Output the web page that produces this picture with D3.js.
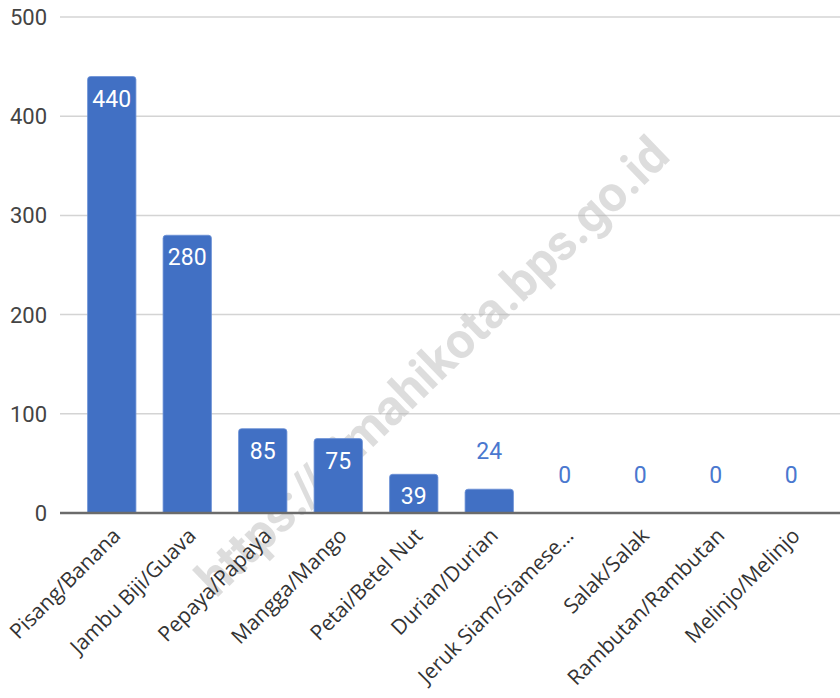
<!DOCTYPE html>
<html><head><meta charset="utf-8">
<script src="https://cdn.jsdelivr.net/npm/d3@7"></script>
<style>body{margin:0;background:#fff}svg{display:block}</style>
</head><body>
<svg id="c" width="840" height="698"></svg>
<script>
const categories = ["Pisang/Banana","Jambu Biji/Guava","Pepaya/Papaya","Mangga/Mango","Petai/Betel Nut","Durian/Durian","Jeruk Siam/Siamese…","Salak/Salak","Rambutan/Rambutan","Melinjo/Melinjo"];
const values = [440,280,85,75,39,24,0,0,0,0];
const yTicks = [0,100,200,300,400,500];
const watermark = "https://cimahikota.bps.go.id";

const svg = d3.select("#c");
const x = d3.scaleBand().domain(categories).range([74,829]).paddingInner(0.36).paddingOuter(0.18);
const y = d3.scaleLinear().domain([0,500]).range([513,17]);
const data = values.map((v,i)=>({c:categories[i],v}));

// gridlines
svg.append("g").selectAll("line").data(yTicks.filter(d=>d>0)).join("line")
  .attr("x1",60).attr("x2",840).attr("y1",d=>y(d)).attr("y2",d=>y(d))
  .attr("stroke","#d4d4d4").attr("stroke-width",1.5);

// y labels
svg.append("g").selectAll("text").data(yTicks).join("text")
  .attr("x",47).attr("y",d=>y(d)).attr("dy","0.36em").attr("text-anchor","end")
  .attr("font-family","Roboto, sans-serif").attr("font-size",22).attr("fill","#444")
  .text(d=>d);

// watermark (behind bars)
svg.append("text")
  .attr("transform","translate(432,366) rotate(-44)")
  .attr("text-anchor","middle").attr("dy","0.35em")
  .attr("font-family","Roboto, sans-serif").attr("font-weight","bold").attr("font-size",50)
  .attr("fill","#b4b4b4").attr("fill-opacity",0.45)
  .text(watermark);

// bars with rounded top
const r = 3;
svg.append("g").selectAll("path").data(data.filter(d=>d.v>0)).join("path")
  .attr("d",d=>{
    const x0=x(d.c), w=x.bandwidth(), y0=y(d.v), yb=y(0);
    return `M${x0},${yb}V${y0+r}Q${x0},${y0} ${x0+r},${y0}H${x0+w-r}Q${x0+w},${y0} ${x0+w},${y0+r}V${yb}Z`;
  })
  .attr("fill","#4170c4").attr("stroke","#6a8fd6").attr("stroke-width",0.8);

// baseline
svg.append("line").attr("x1",60).attr("x2",840).attr("y1",y(0)).attr("y2",y(0))
  .attr("stroke","#6b6b6b").attr("stroke-width",2.5);

// value labels
svg.append("g").selectAll("text").data(data).join("text")
  .attr("x",d=>x(d.c)+x.bandwidth()/2)
  .attr("y",d=> d.v>=30 ? y(d.v)+30 : y(d.v)-30)
  .attr("text-anchor","middle")
  .attr("font-family","Roboto, sans-serif").attr("font-size",23)
  .attr("fill",d=> d.v>=30 ? "#ffffff" : "#4a78cf")
  .text(d=>d.v);

// x labels
svg.append("g").selectAll("text").data(categories).join("text")
  .attr("transform",d=>`translate(${x(d)+x.bandwidth()/2+10},${y(0)+24}) rotate(-45)`)
  .attr("text-anchor","end")
  .attr("font-family","'Open Sans', sans-serif").attr("font-size",21).attr("fill","#333")
  .text(d=>d);
</script>
</body></html>
